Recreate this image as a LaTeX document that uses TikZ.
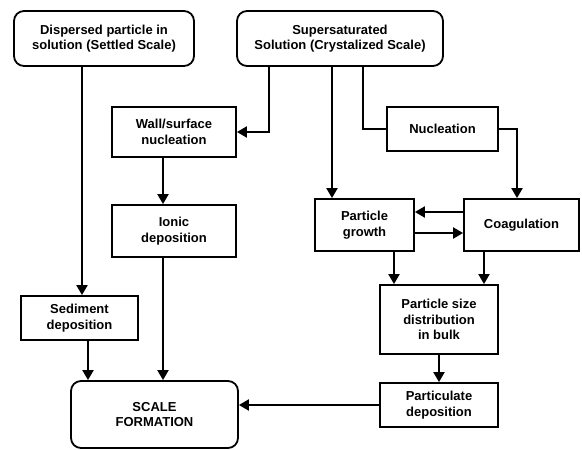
\documentclass[tikz,border=0pt]{standalone}
\usepackage{fontspec}
\setmainfont{Liberation Sans}
\usetikzlibrary{arrows.meta, positioning, calc}

\begin{document}
\begin{tikzpicture}[x=1pt, y=-1pt,
                rnode/.style={draw, line width=1.8pt, rectangle, rounded corners=10pt, align=center, font=\fontsize{13}{15.5}\selectfont\bfseries},
                bnode/.style={draw, line width=1.8pt, rectangle, align=center, font=\fontsize{13}{15.5}\selectfont\bfseries},
                edge/.style={-{Triangle[length=10pt, width=11pt]}, line width=2pt},
                link/.style={line width=2pt}]

                \useasboundingbox (0,0) rectangle (582,450);

                % Sources
                \node[rnode, minimum width=180, minimum height=55] (disp) at (104,38.5) {Dispersed particle in\\solution (Settled Scale)};
                \node[rnode, minimum width=206, minimum height=55] (super) at (340,38.5) {Supersaturated\\Solution (Crystalized Scale)};

                % Left branch
                \node[bnode, minimum width=124, minimum height=50] (wall) at (174,132) {Wall/surface\\nucleation};
                \node[bnode, minimum width=124, minimum height=52] (ionic) at (174,231) {Ionic\\deposition};
                \node[bnode, minimum width=117, minimum height=44] (sed) at (79.5,318) {Sediment\\deposition};

                % Right branch
                \node[bnode, minimum width=111, minimum height=44] (nucl) at (442.5,129) {Nucleation};
                \node[bnode, minimum width=99, minimum height=52] (growth) at (364.5,225) {Particle\\growth};
                \node[bnode, minimum width=115, minimum height=52] (coag) at (521.5,225) {Coagulation};
                \node[bnode, minimum width=118, minimum height=69] (psd) at (439,319.5) {Particle size\\distribution\\in bulk};
                \node[bnode, minimum width=118, minimum height=44] (partdep) at (439,405) {Particulate\\deposition};

                % Result
                \node[rnode, minimum width=167, minimum height=67] (scale) at (154.5,414.5) {SCALE\\FORMATION};

                % Edges
                \draw[edge] ([xshift=-22]disp.south) -- ([xshift=-22]disp.south |- sed.north);
                \draw[edge] ([xshift=8.5]sed.south) -- ([xshift=8.5]sed.south |- scale.north);
                \draw[edge] ([xshift=-71]super.south) |- (wall.east);
                \draw[edge] ([xshift=-8]super.south) -- ([xshift=-8]super.south |- growth.north);
                \draw[link] ([xshift=23]super.south) |- (nucl.west);
                \draw[edge] (nucl.east) -| ([xshift=-4.5]coag.north);
                \draw[edge] ([xshift=-11]wall.south) -- ([xshift=-11]ionic.north);
                \draw[edge] ([xshift=-11]ionic.south) -- ([xshift=-11]ionic.south |- scale.north);
                \draw[edge] ([yshift=13]coag.west) -- ([yshift=13]growth.east);
                \draw[edge] ([yshift=-8]growth.east) -- ([yshift=-8]coag.west);
                \draw[edge] ([xshift=29.5]growth.south) -- ([xshift=29.5]growth.south |- psd.north);
                \draw[edge] ([xshift=-37.5]coag.south) -- ([xshift=-37.5]coag.south |- psd.north);
                \draw[edge] (psd.south) -- (partdep.north);
                \draw[edge] (partdep.west) -- (partdep.west -| scale.east);
            \end{tikzpicture}
\end{document}
